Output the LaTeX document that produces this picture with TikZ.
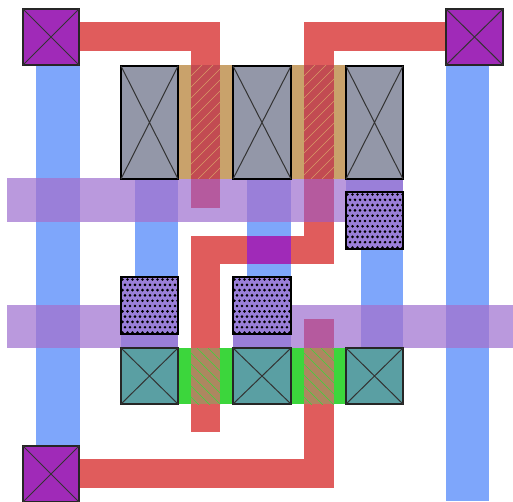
\documentclass[tikz,border=0pt]{standalone}
\definecolor{metalb}{HTML}{7EA6FB}
\definecolor{polyr}{HTML}{E05C5C}
\definecolor{barp}{HTML}{BA99DD}
\definecolor{barb}{HTML}{9A7FD9}
\definecolor{barr}{HTML}{B55A9E}
\definecolor{via}{HTML}{A02AB8}
\definecolor{grayd}{HTML}{9397A8}
\definecolor{tand}{HTML}{C9A26B}
\definecolor{greend}{HTML}{3CD63C}
\definecolor{teald}{HTML}{5A9FA3}
\definecolor{redtan}{HTML}{C24B52}
\definecolor{redgreen}{HTML}{AD8760}
\definecolor{hatchtan}{HTML}{D99A66}
\newcommand{\crossbox}[5]{% style, x0,y0,x1,y1
  \draw[#1] (#2,#3) rectangle (#4,#5);
  \draw[crossline] (#2,#3) -- (#4,#5) (#2,#5) -- (#4,#3);}
\newcommand{\hatchup}[4]{% x0,y0,x1,y1 : SW-NE lines
  \begin{scope}
    \clip (#1,#2) rectangle (#3,#4);
    \foreach \k in {0,11,...,165}{
      \draw[hatchline,hatchtan] (#1+\k-125,#4) -- ++(130,-130);
    }
  \end{scope}}
\newcommand{\hatchdown}[4]{% x0,y0,x1,y1 : NW-SE lines
  \begin{scope}
    \clip (#1,#2) rectangle (#3,#4);
    \foreach \k in {0,11,...,99}{
      \draw[hatchline,greend] (#1+\k-60,#2) -- ++(65,65);
    }
  \end{scope}}
\newcommand{\dotbox}[4]{% x0,y0,x1,y1
  \fill[barb] (#1,#2) rectangle (#3,#4);
  \begin{scope}
    \clip (#1,#2) rectangle (#3,#4);
    \foreach \r in {0,...,10}{
      \pgfmathsetmacro{\off}{mod(\r,2)*2.5}
      \foreach \c in {0,...,11}{
        \fill[black] (#1+1.5+\c*5+\off,#2+2.5+\r*5.3) circle (1.45);
      }
    }
  \end{scope}
  \draw[cellframe] (#1,#2) rectangle (#3,#4);}
\tikzset{
  crossline/.style={draw=black!80,line width=1pt},
  cellframe/.style={draw=black,line width=1.2pt},
  viabox/.style={fill=via,draw=black!85,line width=1.2pt},
  graybox/.style={fill=grayd,draw=black,line width=1.2pt},
  tealbox/.style={fill=teald,draw=black!85,line width=1.1pt},
  hatchline/.style={line width=.5pt}
}
\begin{document}
\begin{tikzpicture}[x=1pt,y=-1pt]
\useasboundingbox (0,0) rectangle (513,501);
\fill[white] (0,0) rectangle (513,501);
% blue metal
\fill[metalb] (36,65) rectangle (80,446);
\fill[metalb] (446,65) rectangle (489,501);
\fill[metalb] (135,178) rectangle (178,277);
\fill[metalb] (247,178) rectangle (291,277);
\fill[metalb] (361,192) rectangle (403,348);
% red poly
\fill[polyr] (79,22) rectangle (220,51);
\fill[polyr] (191,22) rectangle (220,208);
\fill[polyr] (304,22) rectangle (446,51);
\fill[polyr] (304,22) rectangle (334,264);
\fill[polyr] (191,236) rectangle (334,264);
\fill[polyr] (191,236) rectangle (220,432);
\fill[polyr] (79,459) rectangle (334,488);
\fill[polyr] (304,319) rectangle (334,488);
% via between
\fill[via] (247,236) rectangle (291,264);
% translucent bars
\fill[barp] (7,178) rectangle (346,222);
\fill[barp] (7,305) rectangle (178,348);
\fill[barp] (233,305) rectangle (513,348);
% bar overlaps
\fill[barb] (36,178) rectangle (80,222);
\fill[barb] (36,305) rectangle (80,348);
\fill[barb] (135,178) rectangle (178,222);
\fill[barb] (247,178) rectangle (291,222);
\fill[barb] (346,178) rectangle (403,192);
\fill[barb] (361,305) rectangle (403,348);
\fill[barb] (446,305) rectangle (489,348);
\fill[barb] (121,334) rectangle (178,348);
\fill[barb] (233,334) rectangle (291,348);
\fill[barr] (191,178) rectangle (220,208);
\fill[barr] (304,178) rectangle (334,222);
\fill[barr] (304,319) rectangle (334,348);
% diffusion, upper
\fill[tand] (178,65) rectangle (233,179);
\fill[tand] (291,65) rectangle (346,179);
\fill[redtan] (191,65) rectangle (220,179);
\fill[redtan] (304,65) rectangle (334,179);
\hatchup{191}{65}{220}{179}
\hatchup{304}{65}{334}{179}
% diffusion, lower
\fill[greend] (178,348) rectangle (233,404);
\fill[greend] (291,348) rectangle (346,404);
\fill[redgreen] (191,348) rectangle (220,404);
\fill[redgreen] (304,348) rectangle (334,404);
\hatchdown{191}{348}{220}{404}
\hatchdown{304}{348}{334}{404}
% gray cells
\crossbox{graybox}{121}{66}{178}{179}
\crossbox{graybox}{233}{66}{291}{179}
\crossbox{graybox}{346}{66}{403}{179}
% teal cells
\crossbox{tealbox}{121}{348}{178}{404}
\crossbox{tealbox}{233}{348}{291}{404}
\crossbox{tealbox}{346}{348}{403}{404}
% dotted cells
\dotbox{346}{192}{403}{249}
\dotbox{121}{277}{178}{334}
\dotbox{233}{277}{291}{334}
% corner cells
\crossbox{viabox}{23}{9}{79}{65}
\crossbox{viabox}{446}{9}{503}{65}
\crossbox{viabox}{23}{446}{79}{502}
\end{tikzpicture}
\end{document}
